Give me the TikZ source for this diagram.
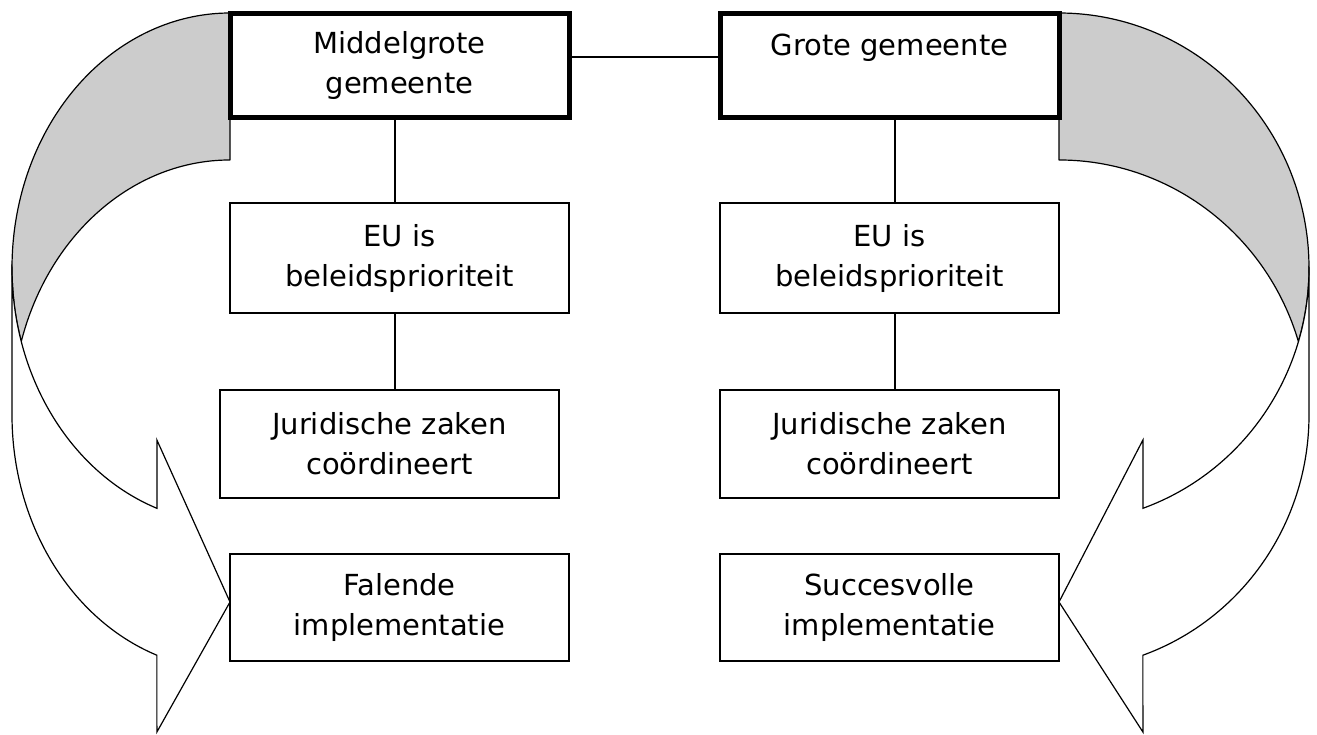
\documentclass[tikz,border=0pt]{standalone}
\usepackage{fontspec}
\setmainfont{DejaVu Sans}

\begin{document}
\begin{tikzpicture}[
x=1pt, y=1pt, % 1 eenheid = 1 pixel van het origineel
box/.style={draw, fill=white, line width=1.3pt, inner sep=0pt, align=center,
  minimum width=339pt, minimum height=#1, font=\fontsize{29}{40}\selectfont},
head/.style={box=#1, line width=5pt},
back/.style={draw, fill=black!20, line width=1.2pt, line join=round},
front/.style={draw, fill=white, line width=1.2pt, line join=miter}
]
\useasboundingbox (0,0) rectangle (1317,-734);

% punten van de pijlen
\coordinate (tipl) at (230,-602);
\coordinate (tipr) at (1059,-602);

% --- Gebogen pijl links ---
\path[back] (230,-13) arc[start angle=90, end angle=196.75, x radius=218, y radius=255]
  arc[start angle=163.25, end angle=90, x radius=218, y radius=255] -- cycle;
\path[front] (12,-268) -- (12,-415)
  arc[start angle=180, end angle=250.4, x radius=218, y radius=255]
  -- (156.9,-732) -- (tipl) -- (156.9,-440) -- (156.9,-508.3)
  arc[start angle=250.4, end angle=180, x radius=218, y radius=255] -- cycle;

% --- Gebogen pijl rechts ---
\path[back] (1059,-13) arc[start angle=90, end angle=-16.75, x radius=250, y radius=255]
  arc[start angle=16.75, end angle=90, x radius=250, y radius=255] -- cycle;
\path[front] (1309,-268) -- (1309,-415)
  arc[start angle=0, end angle=-70.4, x radius=250, y radius=255]
  -- (1142.9,-732) -- (tipr) -- (1142.9,-440) -- (1142.9,-508.3)
  arc[start angle=-70.4, end angle=0, x radius=250, y radius=255] -- cycle;

% --- Kolom links ---
\node[head=104pt] (topl) at (399.5,-65) {Middelgrote\\gemeente};
\node[box=110pt] (eul) at (399.5,-258) {EU is\\beleidsprioriteit};
\node[box=108pt] (jurl) at (389.5,-444) {Juridische zaken\\coördineert};
\node[box=107pt] (fall) at (399.5,-607.5) {Falende\\implementatie};

% --- Kolom rechts ---
\node[head=104pt] (topr) at (889.5,-65) {Grote gemeente\\\mbox{}};
\node[box=110pt] (eur) at (889.5,-258) {EU is\\beleidsprioriteit};
\node[box=108pt] (jurr) at (889.5,-444) {Juridische zaken\\coördineert};
\node[box=107pt] (falr) at (889.5,-607.5) {Succesvolle\\implementatie};

% Verbindingslijnen
\draw[line width=1.3pt] ([yshift=8pt]topl.east) -- ([yshift=8pt]topr.west);
\draw[line width=1.3pt] ([xshift=-4.5pt]topl.south) -- ([xshift=-4.5pt]eul.north);
\draw[line width=1.3pt] ([xshift=-4.5pt]eul.south) -- ([xshift=-4.5pt]eul.south |- jurl.north);
\draw[line width=1.3pt] ([xshift=5.5pt]topr.south) -- ([xshift=5.5pt]eur.north);
\draw[line width=1.3pt] ([xshift=5.5pt]eur.south) -- ([xshift=5.5pt]jurr.north);

\end{tikzpicture}
\end{document}
